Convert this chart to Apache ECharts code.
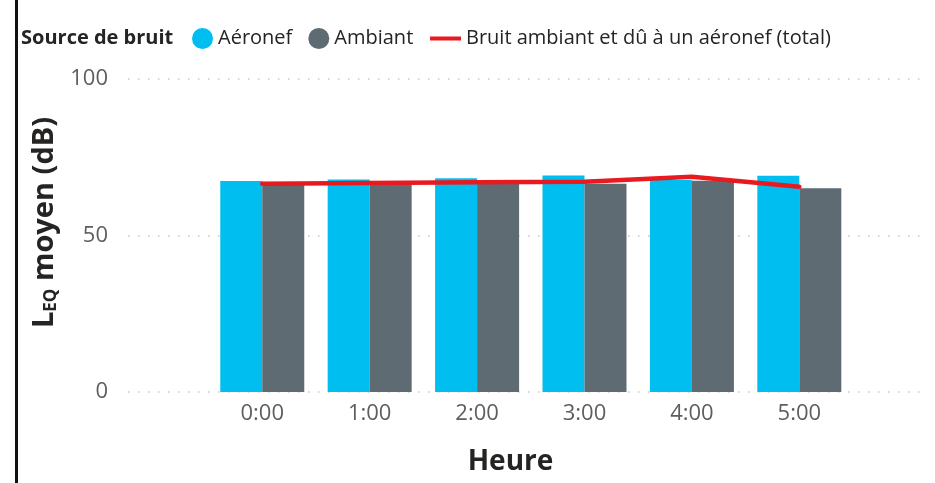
<!DOCTYPE html>
<html>
<head>
<meta charset="utf-8">
<script src="https://cdn.jsdelivr.net/npm/echarts@6/dist/echarts.min.js"></script>
<style>
  html, body { margin: 0; padding: 0; background: #fff; }
  #chart { width: 935px; height: 483px; }
  #bar { position: absolute; left: 15px; top: 0; width: 3px; height: 483px; background: #111; }
</style>
</head>
<body>
<div id="chart"></div>
<div id="bar"></div>
<script>
const hours = ['0:00', '1:00', '2:00', '3:00', '4:00', '5:00'];
const aeronef = [67.4, 67.9, 68.3, 69.2, 67.7, 69.1];
const ambiant = [66.1, 66.4, 66.6, 66.5, 67.5, 65.1];
const total = [66.5, 66.8, 67.0, 67.2, 68.8, 65.6];
const yTicks = [0, 50, 100];

const FONT = '"Open Sans", "Noto Sans", sans-serif';
const totalName = 'Bruit ambiant et dû à un aéronef (total)';

const chart = echarts.init(document.getElementById('chart'));

const pairs = arr => arr.map((v, i) => [i, v]);

chart.setOption({
  backgroundColor: '#fff',
  textStyle: { fontFamily: FONT },
  title: {
    text: 'Source de bruit',
    left: 21,
    top: 26,
    padding: 0,
    textStyle: { fontFamily: FONT, fontSize: 20, fontWeight: 'bold', color: '#252423', lineHeight: 24 }
  },
  legend: [
    {
      left: 192,
      top: 28,
      padding: 0,
      icon: 'circle',
      itemWidth: 21,
      itemHeight: 21,
      itemGap: 16,
      textStyle: { fontFamily: FONT, fontSize: 20, color: '#252423' },
      data: ['Aéronef', 'Ambiant']
    },
    {
      left: 430,
      top: 28,
      padding: 0,
      icon: 'rect',
      itemWidth: 31,
      itemHeight: 4,
      textStyle: { fontFamily: FONT, fontSize: 20, color: '#252423', height: 21, lineHeight: 21 },
      data: [totalName]
    }
  ],
  grid: { left: 128, right: 10, top: 79, bottom: 91 },
  xAxis: {
    type: 'value',
    min: -1.25,
    max: 6.17,
    name: 'Heure',
    nameLocation: 'middle',
    nameGap: 56,
    nameTextStyle: {
      fontFamily: FONT, fontSize: 28, fontWeight: 'bold', color: '#252423',
      padding: [0, 32, 0, 0], verticalAlign: 'top'
    },
    axisLine: { show: false },
    axisTick: { show: false },
    splitLine: { show: false },
    axisLabel: {
      customValues: hours.map((h, i) => i),
      formatter: v => hours[Math.round(v)] || '',
      color: '#605E5C',
      fontFamily: FONT,
      fontSize: 22,
      margin: 11
    }
  },
  yAxis: {
    type: 'value',
    min: 0,
    max: 100,
    interval: 50,
    name: '{a|L}{b|EQ}{a| moyen (dB)}',
    nameLocation: 'middle',
    nameGap: 60,
    nameTextStyle: {
      padding: [0, 0, 0, 26],
      rich: {
        a: { fontFamily: FONT, fontSize: 29, fontWeight: 'bold', color: '#252423', lineHeight: 34, verticalAlign: 'bottom' },
        b: { fontFamily: FONT, fontSize: 17, fontWeight: 'bold', color: '#252423', lineHeight: 10, verticalAlign: 'bottom' }
      }
    },
    axisLine: { show: false },
    axisTick: { show: false },
    axisLabel: {
      customValues: yTicks,
      color: '#605E5C',
      fontFamily: FONT,
      fontSize: 22,
      margin: 20
    },
    splitLine: { lineStyle: { color: '#C8C6C4', width: 1.5, type: [1.5, 8.5] } }
  },
  series: [
    {
      name: 'Aéronef',
      type: 'bar',
      barWidth: 42,
      barGap: '0%',
      itemStyle: { color: '#01BEF0' },
      data: pairs(aeronef)
    },
    {
      name: 'Ambiant',
      type: 'bar',
      barWidth: 42,
      barGap: '0%',
      itemStyle: { color: '#5F6B73' },
      data: pairs(ambiant)
    },
    {
      name: totalName,
      type: 'line',
      showSymbol: false,
      symbol: 'none',
      itemStyle: { color: '#E8191F' },
      lineStyle: { color: '#E8191F', width: 4.5, cap: 'round' },
      z: 5,
      data: pairs(total)
    }
  ]
});
</script>
</body>
</html>
